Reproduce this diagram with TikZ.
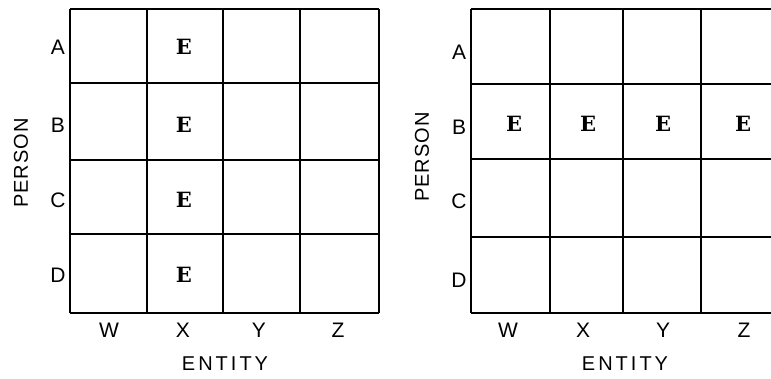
\documentclass[tikz,border=0pt]{standalone}
\usepackage{fontspec}
\setmainfont{Liberation Sans}
\newfontfamily\efont{DejaVu Serif}
\begin{document}
\begin{tikzpicture}[x=1pt,y=-1pt,
  gridline/.style={line width=2pt},
  lab/.style={font=\fontsize{21}{21}\selectfont, inner sep=0pt},
  ent/.style={font=\efont\bfseries\fontsize{21}{21}\selectfont, inner sep=0pt},
  axis/.style={font=\fontsize{20}{20}\selectfont, inner sep=0pt}]
\useasboundingbox (0,0) rectangle (771,379);
% left grid
\foreach \xx in {70,147,223,300,379} \draw[gridline] (\xx,9) -- (\xx,313);
\foreach \yy in {9,83,160,234,313} \draw[gridline] (70,\yy) -- (379,\yy);
\node[lab] (lA) at (58,47) {A};
\node[lab] (lB) at (58,125) {B};
\node[lab] (lC) at (58,200) {C};
\node[lab] (lD) at (58,275) {D};
\node[lab] (lW) at (109,330) {W};
\node[lab] (lX) at (183,330) {X};
\node[lab] (lY) at (259,330) {Y};
\node[lab] (lZ) at (338,330) {Z};
\node[ent] (e1) at (184,47) {E};
\node[ent] (e2) at (184,125) {E};
\node[ent] (e3) at (184,200) {E};
\node[ent] (e4) at (184,275) {E};
\node[axis] (lent) at (225,364) {E\hspace{3pt}N\hspace{3pt}T\hspace{3pt}I\hspace{3pt}T\hspace{3pt}Y};
\node[axis,rotate=90] (lper) at (21,163) {P\hspace{1pt}E\hspace{1pt}R\hspace{1pt}S\hspace{1pt}O\hspace{1pt}N};
% right grid
\foreach \xx in {471,550,623,701} \draw[gridline] (\xx,9) -- (\xx,313);
\foreach \yy in {9,84,159,237,313} \draw[gridline] (471,\yy) -- (780,\yy);
\node[lab] (rA) at (459,52) {A};
\node[lab] (rB) at (459,127) {B};
\node[lab] (rC) at (459,201) {C};
\node[lab] (rD) at (459,280) {D};
\node[lab] (rW) at (508,330) {W};
\node[lab] (rX) at (583,330) {X};
\node[lab] (rY) at (663,330) {Y};
\node[lab] (rZ) at (744,330) {Z};
\node[ent] (f1) at (514,124) {E};
\node[ent] (f2) at (588,124) {E};
\node[ent] (f3) at (663,124) {E};
\node[ent] (f4) at (743,124) {E};
\node[axis] (rent) at (625,364) {E\hspace{3pt}N\hspace{3pt}T\hspace{3pt}I\hspace{3pt}T\hspace{3pt}Y};
\node[axis,rotate=90] (rper) at (422,157) {P\hspace{1pt}E\hspace{1pt}R\hspace{1pt}S\hspace{1pt}O\hspace{1pt}N};
\end{tikzpicture}
\end{document}
